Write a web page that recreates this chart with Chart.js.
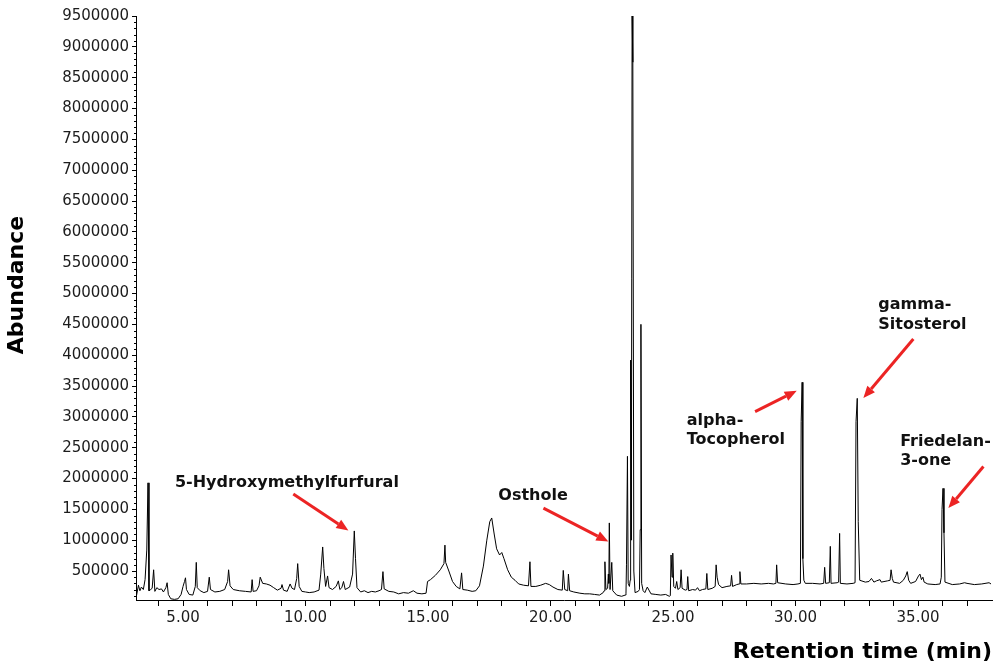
<!DOCTYPE html>
<html>
<head>
<meta charset="utf-8">
<script src="https://cdn.jsdelivr.net/npm/chart.js@4.4.1/dist/chart.umd.min.js"></script>
<style>
  body { margin: 0; background: #fff; }
</style>
</head>
<body>
<canvas id="chrom" width="1000" height="665"></canvas>
<script>
// retention time (min) / abundance
let times = [
  3.10, 3.18, 3.24, 3.30, 3.38, 3.45, 3.52, 3.57, 3.61, 3.68, 3.74, 3.80, 3.85, 3.93,
  4.02, 4.12, 4.20, 4.30, 4.35, 4.40, 4.50, 4.65, 4.80, 4.92,
  5.00, 5.06, 5.10, 5.14, 5.25, 5.40, 5.50, 5.54, 5.58, 5.70, 5.85,
  6.00, 6.07, 6.12, 6.30, 6.50, 6.70, 6.82, 6.86, 6.92,
  7.05, 7.30, 7.55, 7.78, 7.82, 7.86,
  8.00, 8.10, 8.15, 8.25, 8.40, 8.55, 8.70, 8.85,
  9.00, 9.04, 9.10, 9.25, 9.37, 9.45, 9.55, 9.64, 9.68, 9.74, 9.85,
  10.00, 10.15, 10.35, 10.55, 10.62, 10.70, 10.75, 10.82, 10.90, 10.96,
  11.10, 11.25, 11.34, 11.40, 11.48, 11.55, 11.62, 11.80, 11.92, 11.99,
  12.04, 12.10, 12.25, 12.40, 12.55, 12.70, 12.85,
  13.00, 13.10, 13.16, 13.21, 13.40, 13.60, 13.80,
  14.00, 14.20, 14.40, 14.55, 14.75, 14.92, 14.98,
  15.10, 15.30, 15.50, 15.65, 15.69, 15.72, 15.85,
  16.00, 16.15, 16.30, 16.37, 16.42, 16.60, 16.80, 16.95,
  17.10, 17.26, 17.40, 17.52, 17.60, 17.70, 17.80, 17.92,
  18.01, 18.10, 18.25, 18.40, 18.55, 18.70, 18.90,
  19.10, 19.16, 19.20, 19.40, 19.60, 19.80, 19.95,
  20.10, 20.30, 20.48, 20.52, 20.58, 20.70, 20.73, 20.78, 20.95,
  21.20, 21.40, 21.60, 21.80,
  22.00, 22.15, 22.19, 22.22, 22.26, 22.33, 22.36, 22.38, 22.40, 22.43, 22.50, 22.54, 22.70, 22.90,
  23.05, 23.08, 23.10, 23.14, 23.17, 23.22, 23.25, 23.27, 23.30, 23.33, 23.36, 23.40, 23.45, 23.58, 23.63, 23.66, 23.69, 23.72, 23.78, 23.85, 23.95,
  24.10, 24.30, 24.50, 24.70, 24.85, 24.89, 24.92, 24.96, 24.99,
  25.03, 25.10, 25.15, 25.20, 25.29, 25.33, 25.37, 25.50, 25.57, 25.60, 25.64, 25.80, 25.92,
  26.00, 26.08, 26.20, 26.34, 26.38, 26.42, 26.60, 26.72, 26.76, 26.80, 26.86,
  27.00, 27.20, 27.35, 27.39, 27.43, 27.60, 27.70, 27.73, 27.77,
  28.00, 28.30, 28.60, 28.90,
  29.10, 29.20, 29.23, 29.27, 29.60, 29.90,
  30.10, 30.20, 30.23, 30.27, 30.30, 30.34, 30.40, 30.70,
  31.00, 31.15, 31.19, 31.23, 31.38, 31.42, 31.45, 31.70, 31.76, 31.80, 31.83,
  32.10, 32.35, 32.43, 32.47, 32.52, 32.56, 32.62, 32.85,
  33.00, 33.10, 33.20, 33.30, 33.45, 33.50, 33.75, 33.86, 33.90, 33.95,
  34.00, 34.25, 34.40, 34.50, 34.56, 34.62, 34.70, 34.90,
  35.02, 35.08, 35.14, 35.20, 35.25, 35.40, 35.70, 35.90, 35.95, 35.98,
  36.02, 36.06, 36.10, 36.40, 36.70, 36.90,
  37.00, 37.30, 37.60, 37.90, 37.98
]
let abundance = [
  100000, 270000, 180000, 240000, 200000, 360000, 840000, 1930000, 180000, 200000, 220000, 520000, 170000, 230000,
  200000, 210000, 160000, 230000, 310000, 120000, 50000, 40000, 50000, 120000,
  250000, 330000, 390000, 200000, 120000, 110000, 250000, 640000, 230000, 180000, 150000,
  170000, 400000, 200000, 160000, 170000, 200000, 330000, 520000, 260000,
  200000, 180000, 170000, 160000, 360000, 170000,
  180000, 260000, 400000, 300000, 290000, 270000, 230000, 190000,
  220000, 280000, 190000, 170000, 290000, 220000, 200000, 380000, 620000, 250000, 170000,
  160000, 150000, 160000, 190000, 450000, 890000, 540000, 250000, 420000, 230000,
  200000, 250000, 340000, 200000, 230000, 330000, 200000, 240000, 450000, 1150000,
  700000, 230000, 160000, 180000, 150000, 170000, 160000,
  180000, 200000, 490000, 210000, 170000, 160000, 130000,
  150000, 140000, 180000, 140000, 130000, 140000, 330000,
  360000, 430000, 520000, 620000, 920000, 640000, 500000,
  330000, 250000, 210000, 470000, 200000, 190000, 170000, 180000,
  260000, 580000, 1000000, 1300000, 1360000, 1100000, 860000, 760000,
  800000, 700000, 520000, 400000, 350000, 290000, 270000,
  260000, 650000, 250000, 250000, 270000, 300000, 280000,
  240000, 200000, 190000, 510000, 200000, 180000, 450000, 180000, 160000,
  140000, 130000, 130000, 120000,
  110000, 150000, 180000, 650000, 200000, 220000, 450000, 300000, 1280000, 200000, 640000, 180000, 110000, 90000,
  110000, 130000, 600000, 2360000, 300000, 250000, 350000, 3920000, 1000000, 9500000, 8750000, 500000, 150000, 170000, 200000, 1170000, 4500000, 300000, 180000, 150000, 240000,
  130000, 120000, 110000, 120000, 90000, 100000, 760000, 400000, 790000,
  250000, 220000, 330000, 200000, 230000, 520000, 220000, 190000, 200000, 410000, 180000, 200000, 190000,
  230000, 180000, 200000, 210000, 460000, 200000, 220000, 250000, 600000, 400000, 280000,
  230000, 250000, 260000, 430000, 250000, 280000, 290000, 490000, 290000,
  290000, 300000, 290000, 300000,
  290000, 300000, 600000, 310000, 290000, 280000,
  290000, 300000, 2920000, 3560000, 700000, 350000, 300000, 300000,
  290000, 300000, 560000, 300000, 310000, 900000, 300000, 310000, 320000, 1110000, 300000,
  290000, 300000, 310000, 2920000, 3300000, 1300000, 350000, 320000,
  330000, 380000, 320000, 340000, 360000, 320000, 340000, 350000, 520000, 380000,
  320000, 300000, 350000, 420000, 490000, 350000, 300000, 330000,
  420000, 450000, 360000, 400000, 320000, 290000, 280000, 290000, 400000, 1500000,
  1840000, 1120000, 320000, 280000, 290000, 310000,
  300000, 280000, 290000, 310000, 290000
]

let xTicks = [4, 5, 6, 7, 8, 9, 10, 11, 12, 13, 14, 15, 16, 17, 18, 19, 20,
  21, 22, 23, 24, 25, 26, 27, 28, 29, 30, 31, 32, 33, 34, 35, 36, 37]
let yTicks = [500000, 1000000, 1500000, 2000000, 2500000, 3000000, 3500000, 4000000,
  4500000, 5000000, 5500000, 6000000, 6500000, 7000000, 7500000, 8000000, 8500000,
  9000000, 9500000]

// compound labels: text lines, text anchor and arrow (tail -> tip) in data units
let compounds = [
  { lines: ['5-Hydroxymethylfurfural'], at: [4.67, 1865000], from: [9.50, 1747000], to: [11.75, 1156000] },
  { lines: ['Osthole'], at: [17.87, 1654000], from: [19.71, 1520000], to: [22.36, 978000] },
  { lines: ['alpha-', 'Tocopherol'], at: [25.56, 2871000], from: [28.35, 3086000], to: [30.05, 3422000] },
  { lines: ['gamma-', 'Sitosterol'], at: [33.38, 4744000], from: [34.81, 4261000], to: [32.77, 3304000] },
  { lines: ['Friedelan-', '3-one'], at: [34.27, 2530000], from: [37.67, 2194000], to: [36.24, 1520000] }
]

let points = times.map((t, i) => ({ x: t, y: abundance[i] }))

function arrow(ctx, x1, y1, x2, y2) {
  let a = Math.atan2(y2 - y1, x2 - x1)
  let head = 12
  let bx = x2 - head * Math.cos(a), by = y2 - head * Math.sin(a)
  ctx.beginPath()
  ctx.moveTo(x1, y1)
  ctx.lineTo(bx, by)
  ctx.stroke()
  ctx.beginPath()
  ctx.moveTo(x2, y2)
  ctx.lineTo(bx + 5 * Math.sin(a), by - 5 * Math.cos(a))
  ctx.lineTo(bx - 5 * Math.sin(a), by + 5 * Math.cos(a))
  ctx.closePath()
  ctx.fill()
}

const decor = {
  id: 'decor',
  afterDraw(chart) {
    const ctx = chart.ctx
    const x = chart.scales.x, y = chart.scales.y
    ctx.save()
    // minor ticks on the abundance axis
    ctx.strokeStyle = '#000'
    ctx.lineWidth = 1
    ctx.beginPath()
    for (let v = 100000; v < 9500000; v += 100000) {
      if (v % 500000 == 0) continue
      let py = Math.round(y.getPixelForValue(v)) + 0.5
      ctx.moveTo(x.left - 2, py)
      ctx.lineTo(x.left, py)
    }
    ctx.stroke()

    // labels + red arrows
    ctx.font = 'bold 16px "DejaVu Sans"'
    ctx.fillStyle = '#111'
    ctx.textBaseline = 'alphabetic'
    ctx.textAlign = 'left'
    compounds.forEach(c => {
      let tx = x.getPixelForValue(c.at[0]), ty = y.getPixelForValue(c.at[1])
      c.lines.forEach((line, i) => ctx.fillText(line, tx, ty + i * 19.5))
    })
    ctx.strokeStyle = '#ec2424'
    ctx.fillStyle = '#ec2424'
    ctx.lineWidth = 3
    compounds.forEach(c => {
      arrow(ctx,
        x.getPixelForValue(c.from[0]), y.getPixelForValue(c.from[1]),
        x.getPixelForValue(c.to[0]), y.getPixelForValue(c.to[1]))
    })
    ctx.restore()
  }
}

const tickFont = { family: 'DejaVu Sans', size: 15 }
const titleFont = { family: 'DejaVu Sans', size: 22, weight: 'bold' }

new Chart(document.getElementById('chrom'), {
  type: 'line',
  data: {
    datasets: [{
      data: points,
      borderColor: '#000',
      borderWidth: 1,
      pointRadius: 0,
      tension: 0,
      fill: false
    }]
  },
  options: {
    responsive: false,
    animation: false,
    devicePixelRatio: 1,
    layout: { padding: { top: 16, right: 8, left: 0, bottom: 0 } },
    plugins: { legend: { display: false }, tooltip: { enabled: false } },
    scales: {
      x: {
        type: 'linear',
        min: 3.08,
        max: 38.02,
        afterBuildTicks: s => { s.ticks = xTicks.map(v => ({ value: v })) },
        afterFit: s => { s.height = 65 },
        ticks: {
          autoSkip: false,
          maxRotation: 0,
          padding: 3,
          color: '#1c1c1c',
          font: tickFont,
          callback: v => (v % 5 == 0 ? v.toFixed(2) : '')
        },
        grid: { drawOnChartArea: false, drawTicks: true, tickLength: 6, tickColor: '#000' },
        border: { display: true, color: '#000', width: 1 },
        title: {
          display: true,
          text: 'Retention time (min)',
          align: 'end',
          color: '#000',
          font: titleFont,
          padding: { top: 0, bottom: 0 }
        }
      },
      y: {
        type: 'linear',
        min: 30000,
        max: 9500000,
        afterBuildTicks: s => { s.ticks = yTicks.map(v => ({ value: v })) },
        afterFit: s => { s.width = 136 },
        ticks: {
          padding: 3,
          color: '#1c1c1c',
          font: tickFont,
          callback: v => String(v)
        },
        grid: { drawOnChartArea: false, drawTicks: true, tickLength: 4, tickColor: '#000' },
        border: { display: true, color: '#000', width: 1 },
        title: {
          display: true,
          text: '      Abundance',
          color: '#000',
          font: titleFont,
          padding: { top: 4, bottom: 0 }
        }
      }
    }
  },
  plugins: [decor]
})
</script>
</body>
</html>
